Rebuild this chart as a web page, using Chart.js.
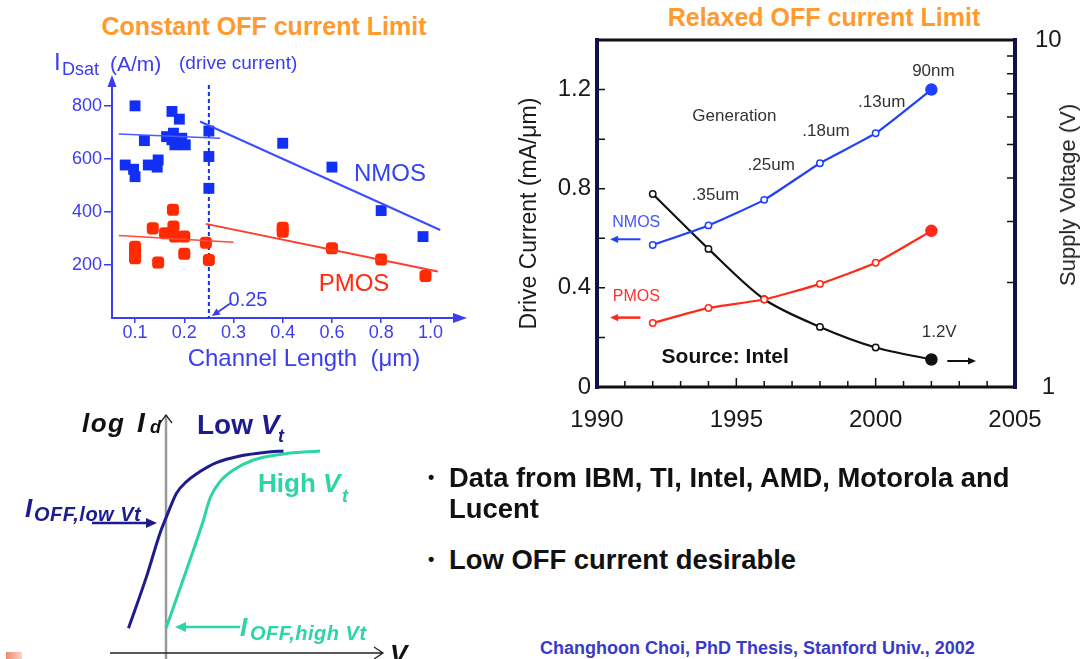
<!DOCTYPE html>
<html>
<head>
<meta charset="utf-8">
<script src="https://cdn.jsdelivr.net/npm/chart.js@4.4.0/dist/chart.umd.min.js"></script>
<style>
  html, body { margin: 0; padding: 0; background: #fff; }
  #page { position: relative; width: 1083px; height: 659px; overflow: hidden;
          font-family: "Liberation Sans", Arial, sans-serif; }
  canvas { position: absolute; }
  .t { position: absolute; white-space: nowrap; line-height: 1; }
  .c { transform: translate(-50%, -50%); }
  .ttl { font-weight: bold; font-size: 25px; color: #ff9a2e; }
  .blue { color: #3c3cf0; }
  .navy { color: #1c1c8e; }
  .teal { color: #2bd5a5; }
  .bi { font-weight: bold; font-style: italic; }
  .bul { font-weight: bold; font-size: 27.4px; color: #111; }
</style>
</head>
<body>
<div id="page">
  <!-- left: constant OFF current -->
  <div class="t c ttl" style="left:264px;top:26px">Constant OFF current Limit</div>
  <canvas id="lenChart" width="470" height="380" style="left:0;top:0"></canvas>
  <div class="t blue" style="left:54px;top:50px;font-size:24px">I</div>
  <div class="t blue" style="left:62px;top:60px;font-size:18px">Dsat</div>
  <div class="t blue" style="left:110px;top:53px;font-size:21px">(A/m)</div>
  <div class="t blue" style="left:179px;top:53px;font-size:19px">(drive current)</div>
  <div class="t c blue" style="left:304px;top:358px;font-size:24px">Channel Length&nbsp;&nbsp;(μm)</div>
  <div class="t c" style="left:390px;top:173px;font-size:24px;color:#3344ee">NMOS</div>
  <div class="t c" style="left:354px;top:283px;font-size:24px;color:#ff2a10">PMOS</div>
  <div class="t c blue" style="left:248px;top:299px;font-size:20px">0.25</div>

  <!-- right: relaxed OFF current -->
  <div class="t c ttl" style="left:824px;top:17px">Relaxed OFF current Limit</div>
  <canvas id="yearChart" width="583" height="440" style="left:500px;top:0"></canvas>
  <div class="t" style="left:1068px;top:195px;font-size:22px;color:#222;transform:translate(-50%,-50%) rotate(-90deg)">Supply Voltage (V)</div>

  <!-- bottom left: log Id sketch -->
  <canvas id="vtChart" width="420" height="264" style="left:0;top:395px"></canvas>
  <div class="t bi" style="left:82px;top:410px;font-size:26px;letter-spacing:1.5px;color:#111">log</div>
  <div class="t bi" style="left:137px;top:409px;font-size:28px;color:#111">I</div>
  <div class="t bi" style="left:150px;top:418px;font-size:18px;color:#111">d</div>
  <div class="t navy" style="left:197px;top:411px;font-size:28px;font-weight:bold">Low <i>V</i></div>
  <div class="t navy bi" style="left:278px;top:427px;font-size:18px">t</div>
  <div class="t teal" style="left:258px;top:470px;font-size:26px;font-weight:bold">High <i>V</i></div>
  <div class="t teal bi" style="left:342px;top:487px;font-size:18px">t</div>
  <div class="t navy bi" style="left:25px;top:495px;font-size:26px">I</div>
  <div class="t navy bi" style="left:34px;top:504px;font-size:20px;letter-spacing:0.5px">OFF,low Vt</div>
  <div class="t teal bi" style="left:240px;top:614px;font-size:26px">I</div>
  <div class="t teal bi" style="left:250px;top:623px;font-size:20px;letter-spacing:0.5px">OFF,high Vt</div>
  <div class="t bi" style="left:390px;top:641px;font-size:26px;color:#111">V</div>
  <div style="position:absolute;left:6px;top:652px;width:16px;height:7px;background:linear-gradient(90deg,#f08a70,#fbd3c4)"></div>

  <!-- bullets -->
  <div class="t bul" style="left:428px;top:468px;font-size:18px">•</div>
  <div class="t bul" style="left:449px;top:464px">Data from IBM, TI, Intel, AMD, Motorola and</div>
  <div class="t bul" style="left:449px;top:495px">Lucent</div>
  <div class="t bul" style="left:428px;top:550px;font-size:18px">•</div>
  <div class="t bul" style="left:449px;top:546px">Low OFF current desirable</div>
  <div class="t" style="left:540px;top:639px;font-size:18px;font-weight:bold;color:#3a3ac8">Changhoon Choi, PhD Thesis, Stanford Univ., 2002</div>
</div>

<script>
// ---------- channel length scatter ----------
const lenTickValues = [0.1, 0.2, 0.3, 0.4, 0.6, 0.8, 1.0];
const lenTickLabels = ['0.1', '0.2', '0.3', '0.4', '0.6', '0.8', '1.0'];
const nmosLen   = [0.1, 0.175, 0.19, 0.119, 0.164, 0.178, 0.195, 0.202, 0.181, 0.175, 0.08, 0.097, 0.1, 0.127, 0.147, 0.145, 0.25, 0.25, 0.25, 0.4, 0.6, 0.8, 0.97];
const nmosIdsat = [800, 779, 750, 669, 684, 697, 678, 653, 653, 672, 577, 561, 533, 577, 596, 569, 705, 609, 489, 659, 569, 405, 307];
const pmosLen   = [0.177, 0.136, 0.178, 0.161, 0.181, 0.2, 0.1, 0.1, 0.1, 0.147, 0.2, 0.244, 0.25, 0.4, 0.4, 0.6, 0.8, 0.98];
const pmosIdsat = [408, 338, 345, 320, 307, 307, 269, 250, 225, 209, 242, 284, 219, 340, 325, 263, 221, 158];
// hand-drawn trend lines: [start, end]
const nmosFitShortLen = [0.067, 0.273], nmosFitShortI = [694, 678];
const nmosFitLongLen  = [0.232, 1.04],  nmosFitLongI  = [741, 332];
const pmosFitShortLen = [0.067, 0.30],  pmosFitShortI = [311, 286];
const pmosFitLongLen  = [0.244, 1.03],  pmosFitLongI  = [355, 175];

// ---------- drive current vs year ----------
const years     = [1992, 1994, 1996, 1998, 2000, 2002];
const nmosDrive = [0.573, 0.652, 0.755, 0.903, 1.024, 1.20];
const pmosDrive = [0.258, 0.319, 0.353, 0.416, 0.501, 0.630];
const supplyV   = [3.6, 2.5, 1.79, 1.49, 1.30, 1.2];
const genLabels = ['', '.35um', '.25um', '.18um', '.13um', '90nm'];

// ---------- log Id sketch ----------
const lowVtVg     = [-0.75, -0.39, -0.12, 0.01, 0.21, 0.41, 0.68, 1.01, 1.48, 2.01, 2.35];
const lowVtLogId  = [1.24, 3.82, 5.99, 6.82, 7.99, 8.57, 9.07, 9.52, 9.85, 10.04, 10.10];
const highVtVg    = [0.0, 0.41, 0.75, 0.88, 1.08, 1.35, 1.75, 2.35, 3.08];
const highVtLogId = [1.24, 4.15, 6.65, 7.74, 8.57, 9.15, 9.65, 9.95, 10.10];

Chart.defaults.font.family = '"Liberation Sans", Arial, sans-serif';
Chart.defaults.animation = false;
Chart.defaults.plugins.legend.display = false;
Chart.defaults.plugins.tooltip.enabled = false;

const AXIS_BLUE = '#3c3cf0';
const NMOS_BLUE = '#1230f5';
const PMOS_RED = '#ff2a00';

// the length axis is spaced evenly per tick, not linearly
function toAxis(len) {
  return len <= 0.4 ? len * 10 : 4 + (len - 0.4) / 0.2;
}
const pts = (xs, ys) => xs.map((v, i) => ({ x: toAxis(v), y: ys[i] }));

function arrow(ctx, x1, y1, x2, y2, color, lw, head) {
  const a = Math.atan2(y2 - y1, x2 - x1);
  const w = head * 0.45;
  ctx.save();
  ctx.strokeStyle = color;
  ctx.fillStyle = color;
  ctx.lineWidth = lw;
  ctx.beginPath();
  ctx.moveTo(x1, y1);
  ctx.lineTo(x2 - Math.cos(a) * head * 0.8, y2 - Math.sin(a) * head * 0.8);
  ctx.stroke();
  ctx.beginPath();
  ctx.moveTo(x2, y2);
  ctx.lineTo(x2 - head * Math.cos(a) + w * Math.sin(a), y2 - head * Math.sin(a) - w * Math.cos(a));
  ctx.lineTo(x2 - head * Math.cos(a) - w * Math.sin(a), y2 - head * Math.sin(a) + w * Math.cos(a));
  ctx.closePath();
  ctx.fill();
  ctx.restore();
}

const lenDecor = {
  id: 'lenDecor',
  beforeDatasetsDraw(chart) {
    const { ctx, chartArea: a, scales: { x } } = chart;
    const xd = x.getPixelForValue(toAxis(0.25));
    ctx.save();
    ctx.strokeStyle = NMOS_BLUE;
    ctx.lineWidth = 2;
    ctx.setLineDash([4, 3]);
    ctx.beginPath();
    ctx.moveTo(xd, a.top + 3);
    ctx.lineTo(xd, a.bottom);
    ctx.stroke();
    ctx.restore();
  },
  afterDraw(chart) {
    const { ctx, chartArea: a, scales: { x } } = chart;
    ctx.save();
    ctx.fillStyle = AXIS_BLUE;
    // x axis arrow head
    ctx.beginPath();
    ctx.moveTo(a.right + 12, a.bottom);
    ctx.lineTo(a.right - 2, a.bottom - 5);
    ctx.lineTo(a.right - 2, a.bottom + 5);
    ctx.closePath();
    ctx.fill();
    // y axis arrow head
    ctx.beginPath();
    ctx.moveTo(a.left, a.top - 7);
    ctx.lineTo(a.left - 4.5, a.top + 5);
    ctx.lineTo(a.left + 4.5, a.top + 5);
    ctx.closePath();
    ctx.fill();
    ctx.restore();
    const xd = x.getPixelForValue(toAxis(0.25));
    arrow(ctx, xd + 22, a.bottom - 15, xd + 3, a.bottom - 2, AXIS_BLUE, 1.8, 8);
  }
};

new Chart(document.getElementById('lenChart'), {
  type: 'scatter',
  data: {
    datasets: [
      { data: pts(nmosFitShortLen, nmosFitShortI), showLine: true, pointRadius: 0, borderColor: '#4a5cff', borderWidth: 1.5 },
      { data: pts(nmosFitLongLen, nmosFitLongI), showLine: true, pointRadius: 0, borderColor: '#3a4dff', borderWidth: 2 },
      { data: pts(pmosFitShortLen, pmosFitShortI), showLine: true, pointRadius: 0, borderColor: '#ff4a3a', borderWidth: 1.5 },
      { data: pts(pmosFitLongLen, pmosFitLongI), showLine: true, pointRadius: 0, borderColor: '#ff3b2b', borderWidth: 2 },
      { label: 'NMOS', data: pts(nmosLen, nmosIdsat), pointStyle: 'rect', pointRadius: 7.7,
        backgroundColor: NMOS_BLUE, borderColor: NMOS_BLUE, borderWidth: 0 },
      { label: 'PMOS', data: pts(pmosLen, pmosIdsat), pointStyle: 'rectRounded', pointRadius: 7,
        backgroundColor: PMOS_RED, borderColor: PMOS_RED, borderWidth: 0 }
    ]
  },
  options: {
    responsive: false,
    layout: { padding: { top: 82, right: 15, left: 0, bottom: 0 } },
    scales: {
      x: {
        type: 'linear', min: 0.532, max: 7.5,
        afterBuildTicks: (s) => { s.ticks = lenTickValues.map(v => ({ value: toAxis(v) })); },
        ticks: { callback: (v, i) => lenTickLabels[i], color: AXIS_BLUE, font: { size: 18 }, padding: -1, maxRotation: 0, autoSkip: false },
        grid: { drawOnChartArea: false, drawTicks: true, tickLength: 5, color: AXIS_BLUE, lineWidth: 1.5 },
        border: { display: true, color: AXIS_BLUE, width: 2 },
        afterFit: (s) => { s.height = 62; }
      },
      y: {
        min: 0, max: 890,
        ticks: { stepSize: 200, callback: v => (v > 0 && v % 200 === 0 ? v : ''), color: AXIS_BLUE, font: { size: 18 }, padding: 2 },
        grid: { drawOnChartArea: false, drawTicks: true, tickLength: 8,
                color: (c) => (c.tick.value > 0 && c.tick.value % 200 === 0 ? AXIS_BLUE : 'rgba(0,0,0,0)'), lineWidth: 1.5 },
        border: { display: true, color: AXIS_BLUE, width: 2 },
        afterFit: (s) => { s.width = 112; }
      }
    }
  },
  plugins: [lenDecor]
});

// ---------- year chart ----------
const last = years.length - 1;
const markerRadius = years.map((_, i) => (i === last ? 5.5 : 3.2));
const fills = (col) => years.map((_, i) => (i === last ? col : '#fff'));

const annotations = [
  { text: 'Generation', x: 1994.93, y: 1.094, font: '17px "Liberation Sans", Arial', color: '#333' },
  { text: '1.2V', x: 2002.28, y: 0.219, font: '17px "Liberation Sans", Arial', color: '#333' },
  { text: 'Source: Intel', x: 1994.6, y: 0.122, font: 'bold 21px "Liberation Sans", Arial', color: '#111' },
  { text: 'NMOS', x: 1991.41, y: 0.665, font: '16px "Liberation Sans", Arial', color: '#4455ff' },
  { text: 'PMOS', x: 1991.41, y: 0.365, font: '16px "Liberation Sans", Arial', color: '#ff3333' }
];
// label offsets from each NMOS point (px)
const genOffsets = [[0, 0], [7, -30], [7, -35], [6, -32], [6, -31], [2, -18]];

const yearDecor = {
  id: 'yearDecor',
  afterDraw(chart) {
    const { ctx, chartArea: a, scales: { x, y, yV } } = chart;
    ctx.save();
    // inner ticks
    ctx.strokeStyle = '#111';
    ctx.lineWidth = 1.5;
    ctx.beginPath();
    for (let v = 0.2; v < 1.3; v += 0.2) {
      const py = y.getPixelForValue(v);
      ctx.moveTo(a.left, py); ctx.lineTo(a.left + 8, py);
    }
    for (let yr = 1991; yr <= 2004; yr++) {
      const px = x.getPixelForValue(yr);
      ctx.moveTo(px, a.bottom); ctx.lineTo(px, a.bottom - (yr % 5 === 0 ? 9 : 6));
    }
    for (let v = 2; v <= 9; v++) {
      const py = yV.getPixelForValue(v);
      ctx.moveTo(a.right, py); ctx.lineTo(a.right - 8, py);
    }
    ctx.stroke();
    // frame
    ctx.lineCap = 'square';
    ctx.strokeStyle = '#111';
    ctx.lineWidth = 3;
    ctx.beginPath();
    ctx.moveTo(a.left, a.top); ctx.lineTo(a.right, a.top);
    ctx.moveTo(a.left, a.bottom); ctx.lineTo(a.right, a.bottom);
    ctx.stroke();
    ctx.strokeStyle = '#10104a';
    ctx.lineWidth = 4;
    ctx.beginPath();
    ctx.moveTo(a.left, a.top); ctx.lineTo(a.left, a.bottom);
    ctx.moveTo(a.right, a.top); ctx.lineTo(a.right, a.bottom);
    ctx.stroke();
    // text
    ctx.textAlign = 'center';
    ctx.textBaseline = 'middle';
    annotations.forEach(n => {
      ctx.font = n.font;
      ctx.fillStyle = n.color;
      ctx.fillText(n.text, x.getPixelForValue(n.x), y.getPixelForValue(n.y));
    });
    ctx.font = '17px "Liberation Sans", Arial';
    ctx.fillStyle = '#333';
    const meta = chart.getDatasetMeta(0);
    genLabels.forEach((g, i) => {
      if (!g) return;
      const p = meta.data[i];
      ctx.fillText(g, p.x + genOffsets[i][0], p.y + genOffsets[i][1]);
    });
    ctx.restore();
    arrow(ctx, x.getPixelForValue(1991.56), y.getPixelForValue(0.596), x.getPixelForValue(1990.47), y.getPixelForValue(0.596), '#2040ff', 2, 8);
    arrow(ctx, x.getPixelForValue(1991.56), y.getPixelForValue(0.28), x.getPixelForValue(1990.47), y.getPixelForValue(0.28), '#ff2a1a', 2.5, 8);
    arrow(ctx, x.getPixelForValue(2002.57), y.getPixelForValue(0.105), x.getPixelForValue(2003.6), y.getPixelForValue(0.105), '#111', 2, 8);
  }
};

new Chart(document.getElementById('yearChart'), {
  type: 'line',
  data: {
    datasets: [
      { label: 'NMOS', data: years.map((yr, i) => ({ x: yr, y: nmosDrive[i] })), yAxisID: 'y',
        borderColor: '#2040ff', borderWidth: 2.2, tension: 0.15,
        pointRadius: markerRadius, pointBackgroundColor: fills('#2040ff'), pointBorderColor: '#2040ff', pointBorderWidth: 1.5 },
      { label: 'PMOS', data: years.map((yr, i) => ({ x: yr, y: pmosDrive[i] })), yAxisID: 'y',
        borderColor: '#ff2a1a', borderWidth: 2.2, tension: 0.15,
        pointRadius: markerRadius, pointBackgroundColor: fills('#ff2a1a'), pointBorderColor: '#ff2a1a', pointBorderWidth: 1.5 },
      { label: 'Supply voltage', data: years.map((yr, i) => ({ x: yr, y: supplyV[i] })), yAxisID: 'yV',
        borderColor: '#111', borderWidth: 2.2, tension: 0.3,
        pointRadius: markerRadius, pointBackgroundColor: fills('#111'), pointBorderColor: '#111', pointBorderWidth: 1.5 }
    ]
  },
  options: {
    responsive: false,
    layout: { padding: { top: 40, left: 0, right: 0, bottom: 0 } },
    scales: {
      x: {
        type: 'linear', min: 1990, max: 2005,
        ticks: { stepSize: 5, callback: v => String(v), color: '#1a1a1a', font: { size: 24 }, padding: 19, maxRotation: 0, autoSkip: false },
        grid: { display: false, drawTicks: false },
        border: { display: false },
        afterFit: (s) => { s.height = 53; }
      },
      y: {
        position: 'left', min: 0, max: 1.4,
        ticks: {
          stepSize: 0.2, color: '#1a1a1a', font: { size: 24 }, padding: 6,
          callback: v => { const r = Math.round(v * 10); return r % 4 === 0 ? String(r / 10) : ''; }
        },
        grid: { display: false, drawTicks: false },
        border: { display: false },
        title: { display: true, text: 'Drive Current (mA/μm)', color: '#1a1a1a', font: { size: 23 }, padding: { top: 16, bottom: 0 } },
        afterFit: (s) => { s.width = 97; }
      },
      yV: {
        type: 'logarithmic', position: 'right', min: 1, max: 10,
        ticks: { callback: v => (v === 1 || v === 10 ? String(v) : ''), color: '#1a1a1a', font: { size: 24 }, padding: 20, crossAlign: 'center', autoSkip: false },
        grid: { display: false, drawTicks: false },
        border: { display: false },
        afterFit: (s) => { s.width = 68; }
      }
    }
  },
  plugins: [yearDecor]
});

// ---------- log Id sketch ----------
const vtDecor = {
  id: 'vtDecor',
  beforeDatasetsDraw(chart) {
    const { ctx, chartArea: a, scales: { x, y } } = chart;
    const x0 = x.getPixelForValue(0);
    const y0 = y.getPixelForValue(0);
    ctx.save();
    ctx.strokeStyle = '#999';
    ctx.lineWidth = 2.5;
    ctx.beginPath();
    ctx.moveTo(x0, chart.height);
    ctx.lineTo(x0, a.top);
    ctx.stroke();
    ctx.strokeStyle = '#222';
    ctx.lineWidth = 1.3;
    ctx.beginPath();
    ctx.moveTo(x0 - 6, a.top + 8); ctx.lineTo(x0, a.top); ctx.lineTo(x0 + 6, a.top + 8);
    ctx.moveTo(a.left, y0); ctx.lineTo(a.right, y0);
    ctx.moveTo(a.right - 9, y0 - 6); ctx.lineTo(a.right, y0); ctx.lineTo(a.right - 9, y0 + 6);
    ctx.stroke();
    ctx.restore();
  },
  afterDatasetsDraw(chart) {
    const { ctx, scales: { x, y } } = chart;
    arrow(ctx, x.getPixelForValue(-1.48), y.getPixelForValue(6.5), x.getPixelForValue(-0.18), y.getPixelForValue(6.5), '#1c1c8e', 2.5, 11);
    arrow(ctx, x.getPixelForValue(1.48), y.getPixelForValue(1.3), x.getPixelForValue(0.18), y.getPixelForValue(1.3), '#2bd5a5', 2.5, 11);
  }
};

new Chart(document.getElementById('vtChart'), {
  type: 'scatter',
  data: {
    datasets: [
      { label: 'Low Vt', data: lowVtVg.map((v, i) => ({ x: v, y: lowVtLogId[i] })), showLine: true,
        pointRadius: 0, borderColor: '#1c1c8e', borderWidth: 3, tension: 0.4, cubicInterpolationMode: 'monotone' },
      { label: 'High Vt', data: highVtVg.map((v, i) => ({ x: v, y: highVtLogId[i] })), showLine: true,
        pointRadius: 0, borderColor: '#2bd5a5', borderWidth: 3, tension: 0.4, cubicInterpolationMode: 'monotone' }
    ]
  },
  options: {
    responsive: false,
    layout: { padding: { left: 110, right: 37, top: 20, bottom: 6 } },
    scales: {
      x: { type: 'linear', min: -1.12, max: 4.34, display: false },
      y: { min: 0, max: 11.9, display: false }
    }
  },
  plugins: [vtDecor]
});
</script>
</body>
</html>
